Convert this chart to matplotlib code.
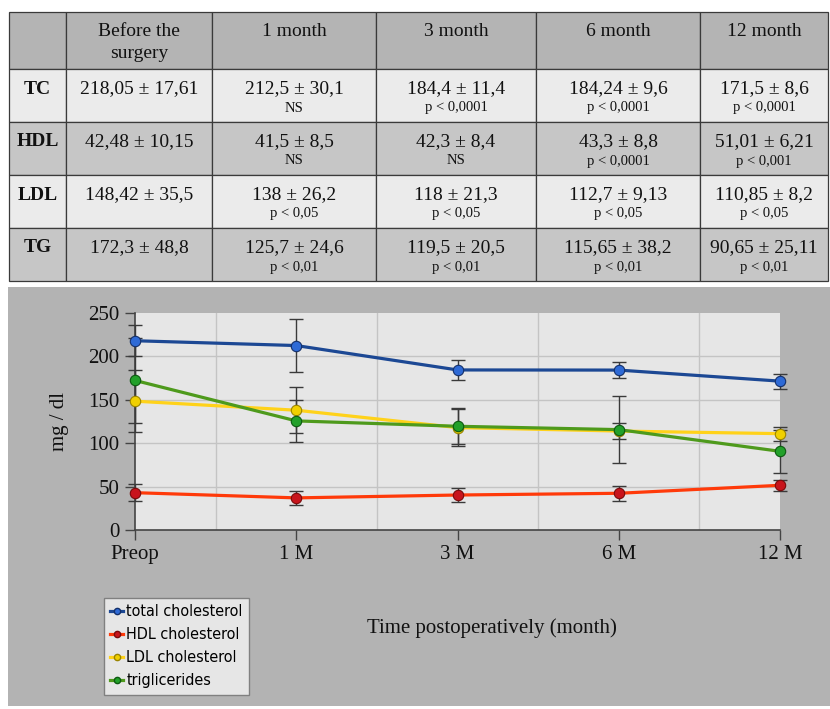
import matplotlib
matplotlib.use("Agg")
import matplotlib.pyplot as plt
from matplotlib.patches import Rectangle
from matplotlib.lines import Line2D

# ---------------- data ----------------
row_labels = ["TC", "HDL", "LDL", "TG"]
col_headers = ["Before the\nsurgery", "1 month", "3 month", "6 month", "12 month"]

tc_mean = [218.05, 212.5, 184.4, 184.24, 171.5]
tc_sd = [17.61, 30.1, 11.4, 9.6, 8.6]
hdl_mean = [42.48, 41.5, 42.3, 43.3, 51.01]
hdl_sd = [10.15, 8.5, 8.4, 8.8, 6.21]
ldl_mean = [148.42, 138, 118, 112.7, 110.85]
ldl_sd = [35.5, 26.2, 21.3, 9.13, 8.2]
tg_mean = [172.3, 125.7, 119.5, 115.65, 90.65]
tg_sd = [48.8, 24.6, 20.5, 38.2, 25.11]

tc_p = ["", "NS", "p < 0,0001", "p < 0,0001", "p < 0,0001"]
hdl_p = ["", "NS", "NS", "p < 0,0001", "p < 0,001"]
ldl_p = ["", "p < 0,05", "p < 0,05", "p < 0,05", "p < 0,05"]
tg_p = ["", "p < 0,01", "p < 0,01", "p < 0,01", "p < 0,01"]

# values as drawn in the chart
time_labels = ["Preop", "1 M", "3 M", "6 M", "12 M"]
tc_plot = [218.05, 212.5, 184.4, 184.24, 171.5]
hdl_plot = [43, 37, 40.3, 42.3, 51.5]
ldl_plot = [148.42, 138, 118, 114, 111]
tg_plot = [172.3, 125.7, 119.5, 115.65, 90.65]
series_names = ["total cholesterol", "HDL cholesterol", "LDL cholesterol", "triglicerides"]

# ---------------- figure ----------------
W, H = 830, 709
fig = plt.figure(figsize=(W / 100, H / 100), dpi=100)
fig.patch.set_facecolor("white")
serif = ["Liberation Serif", "DejaVu Serif"]

bg = fig.add_axes([0, 0, 1, 1], zorder=0)
bg.set_xlim(0, W)
bg.set_ylim(H, 0)
bg.axis("off")

# table geometry
col_x = [9, 66, 212, 376, 536, 700, 828]
row_y = [12, 69, 122, 175, 228, 281]
header_c = "#b4b4b4"
light_c = "#ebebeb"
dark_c = "#c6c6c6"
row_colors = [light_c, dark_c, light_c, dark_c]

def fmt(v):
    return str(v).replace(".", ",")

means = [tc_mean, hdl_mean, ldl_mean, tg_mean]
sds = [tc_sd, hdl_sd, ldl_sd, tg_sd]
ps = [tc_p, hdl_p, ldl_p, tg_p]

# header row
for c in range(6):
    x0, x1 = col_x[c], col_x[c + 1]
    bg.add_patch(Rectangle((x0, row_y[0]), x1 - x0, row_y[1] - row_y[0],
                           facecolor=header_c, edgecolor="#3a3a3a", lw=0.9))
    if c > 0:
        for k, line in enumerate(col_headers[c - 1].split("\n")):
            bg.text((x0 + x1) / 2, row_y[0] + 19 + 23 * k, line, ha="center", va="center",
                    fontsize=14, family=serif, color="#111111")

for r in range(4):
    y0, y1 = row_y[r + 1], row_y[r + 2]
    for c in range(6):
        x0, x1 = col_x[c], col_x[c + 1]
        bg.add_patch(Rectangle((x0, y0), x1 - x0, y1 - y0,
                               facecolor=row_colors[r], edgecolor="#3a3a3a", lw=0.9))
    bg.text((col_x[0] + col_x[1]) / 2, y0 + 20, row_labels[r], ha="center", va="center",
            fontsize=14, family=serif, weight="bold", color="#111111")
    for c in range(5):
        xc = (col_x[c + 1] + col_x[c + 2]) / 2
        bg.text(xc, y0 + 20, f"{fmt(means[r][c])} \u00b1 {fmt(sds[r][c])}", ha="center",
                va="center", fontsize=14, family=serif, color="#111111")
        if ps[r][c]:
            bg.text(xc, y0 + 39, ps[r][c], ha="center", va="center",
                    fontsize=10.5, family=serif, color="#111111")

# chart panel
bg.add_patch(Rectangle((8, 287), 822, 419, facecolor="#b3b3b3", edgecolor="none"))

# ---------------- chart ----------------
left, right, top, bottom = 135, 780, 313, 530
ax = fig.add_axes([left / W, 1 - bottom / H, (right - left) / W, (bottom - top) / H], zorder=2)
ax.set_facecolor("#e6e6e6")
x = list(range(len(time_labels)))

plot_vals = [tc_plot, hdl_plot, ldl_plot, tg_plot]
line_cols = ["#1c4894", "#ff3a0a", "#ffd21a", "#4e9a1c"]
mark_cols = ["#2e6ad6", "#c8141c", "#f0d000", "#22a02a"]
mark_edge = ["#14306a", "#7a0a0a", "#9a8400", "#0c5a10"]

handles = []
for vals, sd, lc, mc, me, name in zip(plot_vals, sds, line_cols, mark_cols, mark_edge, series_names):
    ax.errorbar(x, vals, yerr=sd, fmt="none", ecolor="#3a3a3a", elinewidth=1.0,
                capsize=5, capthick=1.0, zorder=3, clip_on=False)
    ax.plot(x, vals, color=lc, lw=2.3, marker="o", markersize=7.5, markerfacecolor=mc,
            markeredgecolor=me, markeredgewidth=0.8, zorder=4, clip_on=False)
    handles.append(Line2D([], [], color=lc, lw=2.3, marker="o", markersize=4.5,
                          markerfacecolor=mc, markeredgecolor=me, label=name))

ax.set_xlim(0, 4)
ax.set_ylim(0, 250)
ax.set_yticks([0, 50, 100, 150, 200, 250])
ax.set_xticks(x)
ax.set_xticklabels(time_labels)
ax.grid(False)
for v in [50, 100, 150, 200]:
    ax.axhline(v, color="#c4c4c4", lw=1.0, zorder=1)
for v in [0.5, 1.5, 2.5, 3.5]:
    ax.axvline(v, color="#c4c4c4", lw=1.0, zorder=1)
ax.tick_params(axis="both", which="major", length=7, width=1.0, color="#444444",
               labelsize=15, labelcolor="#111111", pad=4)
for lab in ax.get_xticklabels() + ax.get_yticklabels():
    lab.set_family(serif)
for s in ["top", "right"]:
    ax.spines[s].set_visible(False)
for s in ["left", "bottom"]:
    ax.spines[s].set_color("#444444")
    ax.spines[s].set_linewidth(1.2)

ax.set_ylabel("mg / dl", fontsize=15, family=serif, color="#111111", labelpad=14)

fig.text(492 / W, 1 - 628 / H, "Time postoperatively (month)", ha="center", va="center",
         fontsize=15, family=serif, color="#111111")

leg = fig.legend(handles=handles, loc="upper left", bbox_to_anchor=(104 / W, 1 - 598 / H),
                 borderaxespad=0, frameon=True, fancybox=False, handlelength=0.8,
                 handletextpad=0.2, borderpad=0.4, labelspacing=0.5,
                 prop={"family": ["DejaVu Sans"], "stretch": "condensed", "size": 11.5})
leg.get_frame().set_facecolor("#e6e6e6")
leg.get_frame().set_edgecolor("#808080")
leg.get_frame().set_linewidth(1.0)
leg.get_frame().set_alpha(1)

fig.savefig("out.png", dpi=100)
